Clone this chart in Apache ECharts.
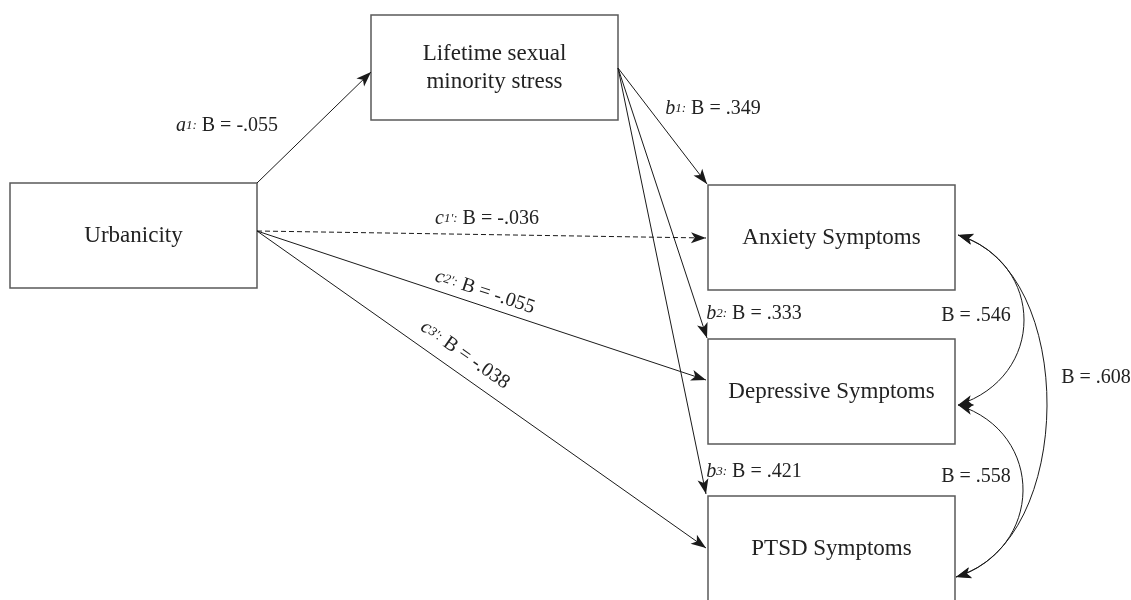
<!DOCTYPE html>
<html>
<head>
<meta charset="utf-8">
<title>Urbanicity mediation model</title>
<script src="https://cdn.jsdelivr.net/npm/echarts@6/dist/echarts.min.js"></script>
<style>
  html, body { margin: 0; padding: 0; background: #fff; }
  #chart { width: 1131px; height: 600px; }
</style>
</head>
<body>
<div id="chart"></div>
<script>
  // variables in the model
  const boxNames = ['Urbanicity', 'Lifetime sexual\nminority stress', 'Anxiety Symptoms', 'Depressive Symptoms', 'PTSD Symptoms'];

  // direct paths: letter, subscript, coefficient
  const pathNames = ['a', 'b', 'b', 'b', 'c', 'c', 'c'];
  const pathSubs = ['1:', '1:', '2:', '3:', "1':", "2':", "3':"];
  const pathB = ['-.055', '.349', '.333', '.421', '-.036', '-.055', '-.038'];
  const pathDashed = [false, false, false, false, true, false, false];

  // residual covariances: anx-dep, dep-ptsd, anx-ptsd
  const covB = ['.546', '.558', '.608'];

  // ---- layout (pixel space of the canvas, y downwards) ----
  const boxX = [10, 371, 708, 708, 708];
  const boxY = [183, 15, 185, 339, 496];
  const boxW = 247, boxH = 105;

  const pathStart = [[257, 183], [618, 68], [618, 68], [618, 68], [257, 231], [257, 231], [257, 231]];
  const pathEnd = [[371, 72], [707, 184], [707, 338], [706, 494], [706, 238], [706, 380], [706, 548]];
  const pathLabelPos = [[227, 126], [713, 109], [754, 314], [754, 472], [487, 219], [485, 292], [465, 355]];
  const pathAlong = [0, 0, 0, 0, 0, 1, 1];

  const covStart = [[958, 235], [958, 405], [958, 235]];
  const covEnd = [[958, 405], [956, 577], [956, 577]];
  const covBulge = [88, 88, 120];   // horizontal reach of the control points
  const covDrop = [28, 28, 34];     // vertical lean of the control points
  const covLabelPos = [[976, 316], [976, 477], [1096, 378]];

  const serif = '"Liberation Serif", "Times New Roman", serif';
  const ink = '#1a1a1a';

  function arrowHead(tip, from, len, half) {
    const dx = tip[0] - from[0], dy = tip[1] - from[1];
    const d = Math.sqrt(dx * dx + dy * dy) || 1;
    const ux = dx / d, uy = dy / d;
    const bx = tip[0] - ux * len, by = tip[1] - uy * len;
    return {
      type: 'polygon',
      shape: { points: [tip, [bx - uy * half, by + ux * half], [tip[0] - ux * len * 0.75, tip[1] - uy * len * 0.75], [bx + uy * half, by - ux * half]] },
      style: { fill: ink }
    };
  }

  let chart = echarts.init(document.getElementById('chart'));

  let option = {
    backgroundColor: '#fff',
    animation: false,
    grid: { left: 0, right: 0, top: 0, bottom: 0 },
    xAxis: { type: 'value', min: 0, max: 1131, show: false },
    yAxis: { type: 'value', min: 0, max: 600, inverse: true, show: false },
    series: [
      {
        // boxes
        type: 'custom',
        clip: false,
        data: boxNames.map((n, i) => [boxX[i], boxY[i], boxX[i] + boxW, boxY[i] + boxH, i]),
        renderItem: function (params, api) {
          const p0 = api.coord([api.value(0), api.value(1)]);
          const p1 = api.coord([api.value(2), api.value(3)]);
          return {
            type: 'group',
            children: [
              {
                type: 'rect',
                shape: { x: p0[0], y: p0[1], width: p1[0] - p0[0], height: p1[1] - p0[1] },
                style: { fill: '#fff', stroke: '#5a5a5a', lineWidth: 1.5 }
              },
              {
                type: 'text',
                x: (p0[0] + p1[0]) / 2,
                y: (p0[1] + p1[1]) / 2,
                style: {
                  text: boxNames[api.value(4)],
                  fontFamily: serif, fontSize: 23, lineHeight: 28,
                  fill: '#222', align: 'center', verticalAlign: 'middle'
                }
              }
            ]
          };
        }
      },
      {
        // straight paths
        type: 'custom',
        clip: false,
        data: pathB.map((b, i) => [i]),
        renderItem: function (params, api) {
          const i = api.value(0);
          const a = api.coord(pathStart[i]);
          const e = api.coord(pathEnd[i]);
          return {
            type: 'group',
            children: [
              {
                type: 'line',
                shape: { x1: a[0], y1: a[1], x2: e[0], y2: e[1] },
                style: { stroke: ink, lineWidth: 1, lineDash: pathDashed[i] ? [5, 3] : null }
              },
              arrowHead(e, a, 15, 5.5)
            ]
          };
        }
      },
      {
        // covariance arcs
        type: 'custom',
        clip: false,
        data: covB.map((b, i) => [i]),
        renderItem: function (params, api) {
          const i = api.value(0);
          const s = api.coord(covStart[i]);
          const e = api.coord(covEnd[i]);
          const c1 = api.coord([covStart[i][0] + covBulge[i], covStart[i][1] + covDrop[i]]);
          const c2 = api.coord([covEnd[i][0] + covBulge[i], covEnd[i][1] - covDrop[i]]);
          return {
            type: 'group',
            children: [
              {
                type: 'bezierCurve',
                shape: { x1: s[0], y1: s[1], x2: e[0], y2: e[1], cpx1: c1[0], cpy1: c1[1], cpx2: c2[0], cpy2: c2[1] },
                style: { stroke: ink, lineWidth: 1, fill: null }
              },
              arrowHead(s, c1, 15, 5.5),
              arrowHead(e, c2, 15, 5.5)
            ]
          };
        }
      },
      {
        // path labels
        type: 'custom',
        clip: false,
        data: pathB.map((b, i) => [i]),
        renderItem: function (params, api) {
          const i = api.value(0);
          const pos = api.coord(pathLabelPos[i]);
          let rot = 0;
          if (pathAlong[i]) {
            const a = api.coord(pathStart[i]);
            const e = api.coord(pathEnd[i]);
            rot = -Math.atan2(e[1] - a[1], e[0] - a[0]);
          }
          return {
            type: 'text',
            x: pos[0], y: pos[1], rotation: rot,
            style: {
              text: '{v|' + pathNames[i] + '}{s|' + pathSubs[i] + '}{b| B = ' + pathB[i] + '}',
              align: 'center', verticalAlign: 'middle',
              fontFamily: serif, fontSize: 20, fill: '#222',
              rich: {
                v: { fontFamily: serif, fontStyle: 'italic', fontSize: 20, fill: '#222', verticalAlign: 'top' },
                s: { fontFamily: serif, fontStyle: 'italic', fontSize: 13, fill: '#222', verticalAlign: 'middle' },
                b: { fontFamily: serif, fontSize: 20, fill: '#222', verticalAlign: 'bottom' }
              }
            }
          };
        }
      },
      {
        // covariance labels
        type: 'custom',
        clip: false,
        data: covB.map((b, i) => [i]),
        renderItem: function (params, api) {
          const i = api.value(0);
          const pos = api.coord(covLabelPos[i]);
          return {
            type: 'text',
            x: pos[0], y: pos[1],
            style: {
              text: 'B = ' + covB[i],
              fontFamily: serif, fontSize: 20, fill: '#222',
              align: 'center', verticalAlign: 'middle'
            }
          };
        }
      }
    ]
  };

  chart.setOption(option);
</script>
</body>
</html>
